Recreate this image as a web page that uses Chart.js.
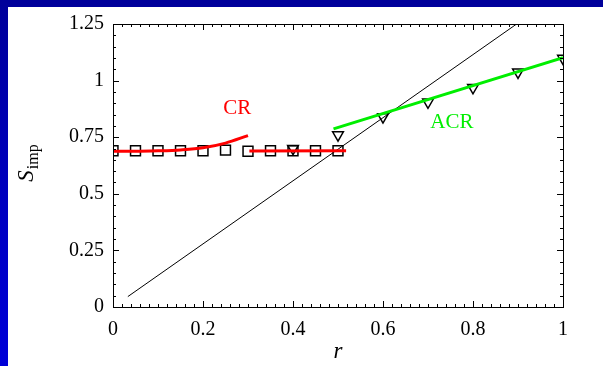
<!DOCTYPE html>
<html><head><meta charset="utf-8">
<script src="https://cdn.jsdelivr.net/npm/chart.js@4/dist/chart.umd.min.js"></script>
<style>
html,body{margin:0;padding:0;}
body{width:603px;height:366px;overflow:hidden;background:linear-gradient(180deg,#00009a 0%,#0000c0 55%,#0000d8 100%);position:relative;font-family:"Liberation Serif","Times New Roman",serif;}
#white{position:absolute;left:8px;top:7px;width:595px;height:359px;background:#fff;}
#c{position:absolute;left:0;top:0;}
#probe{position:absolute;left:-1000px;top:0;font:19px "Liberation Serif";}
</style></head>
<body><div id="white"></div><span id="probe">0.25 CR</span><canvas id="c" width="603" height="366"></canvas>
<script>
// data
const squareX = [0, 0.05, 0.1, 0.15, 0.2, 0.25, 0.3, 0.35, 0.4, 0.45, 0.5];
const squareY = [0.69, 0.69, 0.69, 0.69, 0.69, 0.693, 0.688, 0.69, 0.69, 0.69, 0.69];
const triX = [0.4, 0.5, 0.6, 0.7, 0.8, 0.9, 1.0];
const triY = [0.70, 0.76, 0.84, 0.905, 0.969, 1.037, 1.098];
const crX = [0, 0.05, 0.1, 0.15, 0.2, 0.25, 0.3];
const crY = [0.688, 0.688, 0.690, 0.694, 0.703, 0.724, 0.757];
const crFlatX = [0.303, 0.518];
const crFlatY = [0.689, 0.690];
const acrX = [0.49, 1.0];
const acrY = [0.787, 1.101];
const diagX = [0.033, 0.897];
const diagY = [0.046, 1.25];
const xTickLabels = ['0', '0.2', '0.4', '0.6', '0.8', '1'];
const yTickLabels = ['0', '0.25', '0.5', '0.75', '1', '1.25'];

const pts = (xs, ys) => xs.map((x, i) => ({x, y: ys[i]}));
const serif = "'Liberation Serif', 'Times New Roman', Times, serif";

const boxPlugin = {
  id: 'box',
  afterDraw(chart) {
    const {ctx, chartArea: a, scales: {x, y}} = chart;
    ctx.save();
    ctx.strokeStyle = '#000';
    ctx.lineWidth = 1;
    ctx.strokeRect(a.left + 0.5, a.top + 0.5, a.right - a.left, a.bottom - a.top);
    ctx.beginPath();
    for (let i = 0; i <= 50; i++) {
      const v = i * 0.02;
      const px = Math.round(x.getPixelForValue(v)) + 0.5;
      const len = (i % 10 === 0) ? 6 : 3;
      ctx.moveTo(px, a.bottom); ctx.lineTo(px, a.bottom - len);
      ctx.moveTo(px, a.top); ctx.lineTo(px, a.top + len);
    }
    for (let i = 0; i <= 25; i++) {
      const v = i * 0.05;
      const py = Math.round(y.getPixelForValue(v)) + 0.5;
      const len = (i % 5 === 0) ? 6 : 3;
      ctx.moveTo(a.left, py); ctx.lineTo(a.left + len, py);
      ctx.moveTo(a.right, py); ctx.lineTo(a.right - len, py);
    }
    ctx.stroke();
    ctx.font = '21px ' + serif;
    ctx.textAlign = 'center';
    ctx.textBaseline = 'middle';
    ctx.fillStyle = '#ff0000';
    ctx.fillText('CR', x.getPixelForValue(0.276), y.getPixelForValue(0.879));
    ctx.fillStyle = '#00ee00';
    ctx.fillText('ACR', x.getPixelForValue(0.753), y.getPixelForValue(0.815));
    ctx.fillStyle = '#000';
    ctx.translate(33, (a.top + a.bottom) / 2);
    ctx.rotate(-Math.PI / 2);
    ctx.textAlign = 'left';
    ctx.textBaseline = 'alphabetic';
    ctx.font = 'italic 23px ' + serif;
    const sw = ctx.measureText('S').width;
    ctx.font = '16px ' + serif;
    const iw = ctx.measureText('imp').width;
    const start = -(sw + iw) / 2 + 2;
    ctx.font = 'italic 23px ' + serif;
    ctx.fillText('S', start, 0);
    ctx.font = '16px ' + serif;
    ctx.fillText('imp', start + sw + 1, 5);
    ctx.restore();
  }
};

function draw() {
  new Chart(document.getElementById('c'), {
    type: 'scatter',
    data: {
      datasets: [
        {type: 'line', data: pts(crX, crY), borderColor: '#ff0000', borderWidth: 3, pointRadius: 0, cubicInterpolationMode: 'monotone', fill: false},
        {type: 'line', data: pts(crFlatX, crFlatY), borderColor: '#ff0000', borderWidth: 3, pointRadius: 0, fill: false},
        {type: 'line', data: pts(acrX, acrY), borderColor: '#00ee00', borderWidth: 3, pointRadius: 0, fill: false},
        {type: 'line', data: pts(diagX, diagY), borderColor: '#000', borderWidth: 1, pointRadius: 0, fill: false},
        {data: pts(squareX, squareY), pointStyle: 'rect', pointRadius: 7, borderColor: '#000', borderWidth: 1.5, backgroundColor: 'rgba(0,0,0,0)', showLine: false},
        {data: pts(triX, triY), pointStyle: 'triangle', rotation: 180, pointRadius: 6.2, borderColor: '#000', borderWidth: 1.5, backgroundColor: 'rgba(0,0,0,0)', showLine: false}
      ]
    },
    options: {
      responsive: false,
      animation: false,
      events: [],
      layout: {padding: {left: 0, right: 40, top: 24, bottom: 0}},
      plugins: {legend: {display: false}, tooltip: {enabled: false}},
      scales: {
        x: {
          type: 'linear', min: 0, max: 1,
          afterFit(s) { s.height = 59; },
          grid: {display: false},
          border: {display: false},
          ticks: {stepSize: 0.2, padding: 3, color: '#000', font: {family: serif, size: 20},
            callback: (v) => xTickLabels[Math.round(v / 0.2)], maxRotation: 0},
          title: {display: true, text: 'r', color: '#000', font: {family: serif, size: 23, style: 'italic'}, padding: {top: 0, bottom: 0}}
        },
        y: {
          type: 'linear', min: 0, max: 1.25,
          afterFit(s) { s.width = 113; },
          grid: {display: false},
          border: {display: false},
          ticks: {stepSize: 0.25, padding: 1, color: '#000', font: {family: serif, size: 20},
            callback: (v) => yTickLabels[Math.round(v / 0.25)]}
        }
      }
    },
    plugins: [boxPlugin]
  });
}
if (document.fonts && document.fonts.load) {
  Promise.all([
    document.fonts.load("20px 'Liberation Serif'"),
    document.fonts.load("italic 23px 'Liberation Serif'")
  ]).then(draw, draw);
} else { draw(); }
</script>
</body></html>
